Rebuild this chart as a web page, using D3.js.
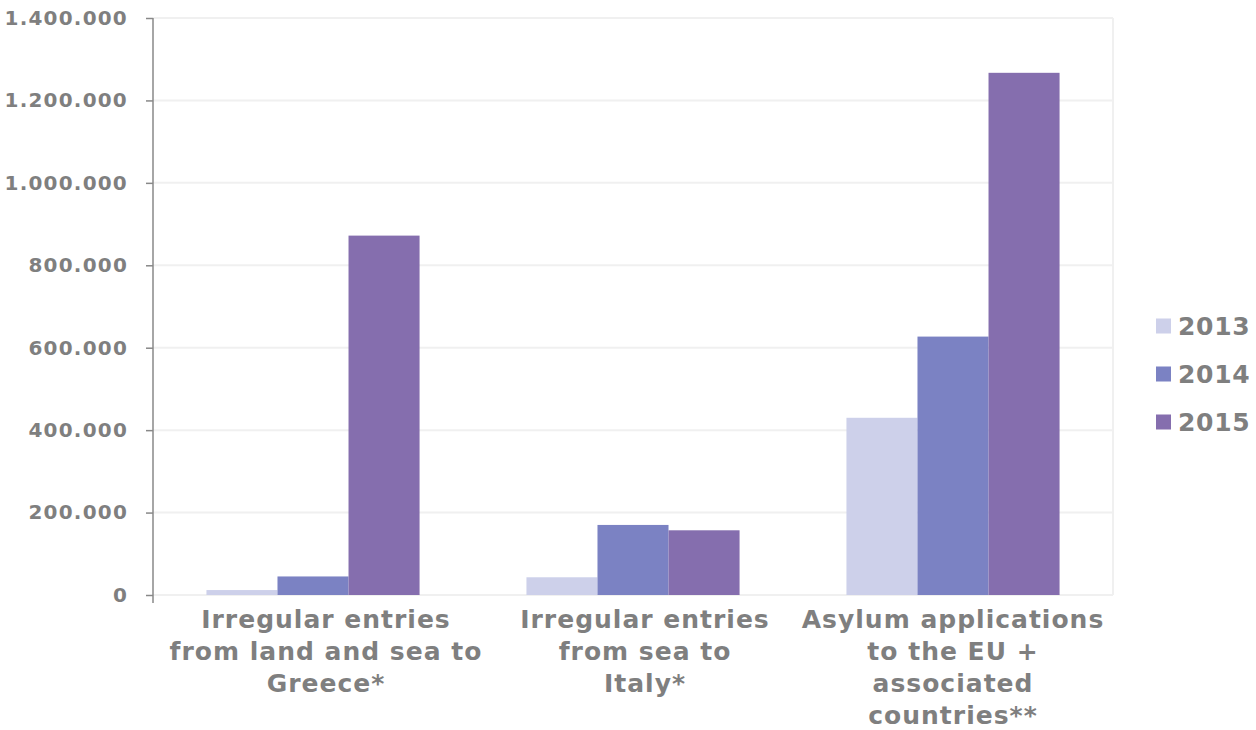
<!DOCTYPE html>
<html>
<head>
<meta charset="utf-8">
<script src="https://cdn.jsdelivr.net/npm/d3@7"></script>
<style>
  body { margin: 0; background: #fff; }
  text { font-family: "DejaVu Sans", Verdana, sans-serif; font-weight: bold; fill: #7f7f7f; }
</style>
</head>
<body>
<div id="chart"></div>
<script>
// Chart data
const categories = [
  ["Irregular entries", "from land and sea to", "Greece*"],
  ["Irregular entries", "from sea to", "Italy*"],
  ["Asylum applications", "to the EU +", "associated", "countries**"]
];
const years = ["2013", "2014", "2015"];
const values2013 = [12000, 43000, 430000];
const values2014 = [45000, 170000, 627000];
const values2015 = [872000, 157000, 1267000];
const yTicks = [0, 200000, 400000, 600000, 800000, 1000000, 1200000, 1400000];
const colors = ["#cdd0ea", "#7b82c3", "#856eae"];

const series = [values2013, values2014, values2015];

const width = 1256, height = 730;
const margin = {top: 18, right: 143, bottom: 135, left: 153};
const innerW = width - margin.left - margin.right;
const innerH = height - margin.top - margin.bottom;

// the first two labels sit a little right of their bar groups in the original
const labelShift = [13, 12, 0];

const svg = d3.select("#chart").append("svg")
    .attr("width", width)
    .attr("height", height);

const g = svg.append("g")
    .attr("transform", "translate(" + margin.left + "," + margin.top + ")");

// Scales
const x0 = d3.scaleBand()
    .domain(d3.range(categories.length))
    .range([0, innerW])
    .paddingInner(0.334)
    .paddingOuter(0.167);

const x1 = d3.scaleBand()
    .domain(years)
    .range([0, x0.bandwidth()]);

const y = d3.scaleLinear()
    .domain([0, 1400000])
    .range([innerH, 0]);

// Gridlines
g.selectAll(".grid")
    .data(yTicks)
    .enter().append("line")
    .attr("class", "grid")
    .attr("x1", 0)
    .attr("x2", innerW)
    .attr("y1", d => y(d))
    .attr("y2", d => y(d))
    .attr("stroke", "#f0f0f0")
    .attr("stroke-width", 2);

// right border of plot area
g.append("line")
    .attr("x1", innerW).attr("x2", innerW)
    .attr("y1", y(1400000)).attr("y2", y(0))
    .attr("stroke", "#f0f0f0")
    .attr("stroke-width", 2);

// Bars
const groups = g.selectAll(".group")
    .data(categories)
    .enter().append("g")
    .attr("class", "group")
    .attr("transform", (d, i) => "translate(" + x0(i) + ",0)");

groups.selectAll("rect")
    .data((d, i) => years.map((yr, j) => ({year: yr, value: series[j][i], j: j})))
    .enter().append("rect")
    .attr("x", d => x1(d.year))
    .attr("width", x1.bandwidth())
    .attr("y", d => y(d.value))
    .attr("height", d => y(0) - y(d.value))
    .attr("fill", d => colors[d.j]);

// Y axis
const fmt = d3.formatLocale({decimal: ",", thousands: ".", grouping: [3], currency: ["", "€"]}).format(",d");
const yAxis = g.append("g")
    .call(d3.axisLeft(y).tickValues(yTicks).tickFormat(fmt).tickSize(7).tickSizeOuter(0).tickPadding(18));
yAxis.select(".domain").remove();
yAxis.selectAll(".tick line").attr("stroke", "#888").attr("stroke-width", 1.5);
yAxis.selectAll(".tick text")
    .style("font-size", "20px")
    .style("letter-spacing", "1.2px")
    .attr("fill", "#7f7f7f");
g.append("line")
    .attr("x1", 0).attr("x2", 0)
    .attr("y1", 0).attr("y2", innerH + 8)
    .attr("stroke", "#888")
    .attr("stroke-width", 1.5);

// Category labels
const labels = g.selectAll(".cat")
    .data(categories)
    .enter().append("text")
    .attr("class", "cat")
    .attr("text-anchor", "middle")
    .style("font-size", "25px")
    .style("letter-spacing", "1px")
    .attr("transform", (d, i) => "translate(" + (x0(i) + x0.bandwidth() / 2 + labelShift[i]) + "," + (innerH + 33) + ")");

labels.selectAll("tspan")
    .data(d => d)
    .enter().append("tspan")
    .attr("x", 0)
    .attr("dy", (d, i) => i === 0 ? 0 : 32)
    .text(d => d);

// Legend
const legend = svg.append("g")
    .attr("transform", "translate(1156,326)");
const item = legend.selectAll(".item")
    .data(years)
    .enter().append("g")
    .attr("class", "item")
    .attr("transform", (d, i) => "translate(0," + (i * 48) + ")");
item.append("rect")
    .attr("x", 0).attr("y", -7.5)
    .attr("width", 15).attr("height", 15)
    .attr("fill", (d, i) => colors[i]);
item.append("text")
    .attr("x", 22)
    .attr("dy", "0.36em")
    .style("font-size", "25px")
    .style("letter-spacing", "0.7px")
    .text(d => d);
</script>
</body>
</html>
